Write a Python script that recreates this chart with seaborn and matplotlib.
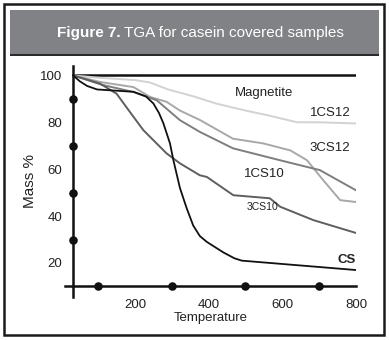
import numpy as np
import pandas as pd
import matplotlib
matplotlib.use("Agg")
import matplotlib.pyplot as plt
from matplotlib.patches import Rectangle
import seaborn as sns

# values (temperature, mass %)
magnetite_t = [32, 800]
magnetite_m = [100, 100]

onecs12_t = [32, 100, 200, 240, 290, 360, 420, 500, 560, 640, 700, 800]
onecs12_m = [100, 99, 98, 97, 94, 91, 88, 85, 83, 80, 80, 79.5]

threecs12_t = [32, 105, 196, 241, 286, 322, 376, 466, 548, 622, 667, 711, 757, 800]
threecs12_m = [100, 97.2, 95, 90.8, 88.7, 85, 81, 73, 71, 68, 63.8, 55.3, 46.8, 46]

onecs10_t = [32, 110, 196, 259, 322, 376, 466, 594, 702, 800]
onecs10_m = [100, 96, 92.9, 89.4, 80.9, 75.9, 68.9, 63.8, 59.6, 51]

threecs10_t = [32, 105, 150, 196, 223, 286, 322, 376, 395, 467, 566, 594, 684, 800]
threecs10_m = [100, 96.5, 92.2, 82.3, 76.6, 66.7, 62.5, 57.4, 56.7, 48.9, 47.6, 44, 38.3, 32.8]

cs_t = [32, 50, 70, 97, 196, 230, 250, 265, 277, 295, 304, 322, 340, 358, 376, 395,
        412, 440, 470, 490, 800]
cs_m = [100, 97.5, 95.5, 94, 93, 91, 88, 84, 79.6, 71, 64, 52, 43.5, 36, 31.5, 29,
        27.3, 24.5, 22, 21, 17]

# minor tick dots on the axes
dot_t = [100, 300, 500, 700]
dot_m = [30, 50, 70, 90]

sns.set_style("white")
plt.rcParams['font.family'] = ['Liberation Sans', 'DejaVu Sans']

fig = plt.figure(figsize=(3.89, 3.40), dpi=100)

# frame and header
fig.add_artist(Rectangle((4/389, 1-335/340), 380/389, 331/340, transform=fig.transFigure,
                         fill=False, edgecolor='#1a1a1a', lw=1.8))
fig.add_artist(Rectangle((10/389, 1-54/340), 369/389, 44/340, transform=fig.transFigure,
                         facecolor='#818285', edgecolor='none'))
fig.add_artist(Rectangle((10/389, 1-56/340), 369/389, 2.5/340, transform=fig.transFigure,
                         facecolor='#2a2a2a', edgecolor='none'))
fig.text(121/389, 1-33/340, "Figure 7.", ha='right', va='center', color='white',
         fontsize=11, fontweight='bold')
fig.text(124/389, 1-33/340, "TGA for casein covered samples", ha='left', va='center',
         color='white', fontsize=11)

ax = fig.add_axes([65/389, 1-297/340, 291/389, 231/340])

series = [
    (magnetite_t, magnetite_m, '#111111', 1.8),
    (onecs12_t, onecs12_m, '#d2d2d2', 1.4),
    (threecs12_t, threecs12_m, '#a8a8a8', 1.4),
    (onecs10_t, onecs10_m, '#7e7e7e', 1.4),
    (threecs10_t, threecs10_m, '#5e5e5e', 1.4),
    (cs_t, cs_m, '#111111', 1.3),
]
for t, m, c, lw in series:
    sns.lineplot(x=t, y=m, color=c, lw=lw, ax=ax, sort=False, estimator=None)

ax.set_xlim(10, 800)
ax.set_ylim(5.5, 104)

for s in ['top', 'right']:
    ax.spines[s].set_visible(False)
ax.spines['left'].set_position(('data', 32))
ax.spines['bottom'].set_position(('data', 10))
for s in ['left', 'bottom']:
    ax.spines[s].set_linewidth(1.8)
    ax.spines[s].set_color('#111111')

# dots on the axis lines
sns.scatterplot(x=dot_t, y=[10] * len(dot_t), color='#111111', s=38, ax=ax,
                clip_on=False, zorder=5, linewidth=0)
sns.scatterplot(x=[32] * len(dot_m), y=dot_m, color='#111111', s=38, ax=ax,
                clip_on=False, zorder=5, linewidth=0)

ax.set_xticks([200, 400, 600, 800])
ax.set_yticks([20, 40, 60, 80, 100])
ax.tick_params(axis='both', which='major', direction='out', length=7, width=1.6,
               color='#111111', labelsize=9.5, labelcolor='#222222')
ax.tick_params(axis='x', which='major', length=8, pad=1)
ax.tick_params(axis='y', which='major', pad=1)

ax.set_xlabel("Temperature", fontsize=9.5, labelpad=1, color='#222222')
ax.set_ylabel("Mass %", fontsize=11, labelpad=2, color='#222222')

lab = dict(ha='center', va='center', color='#222222')
ax.text(551, 92.3, "Magnetite", fontsize=9.5, **lab)
ax.text(730, 83.8, "1CS12", fontsize=9.5, **lab)
ax.text(730, 69, "3CS12", fontsize=9.5, **lab)
ax.text(551, 57.9, "1CS10", fontsize=9.5, **lab)
ax.text(545, 43.8, "3CS10", fontsize=7.5, **lab)
ax.text(775, 21.3, "CS", fontsize=9.5, fontweight='bold', **lab)

fig.savefig("out.png", dpi=100)
